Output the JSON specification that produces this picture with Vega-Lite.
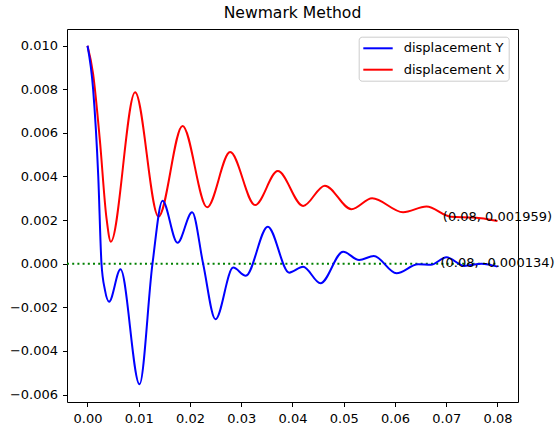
{
  "$schema": "https://vega.github.io/schema/vega-lite/v6.json",
  "autosize": {"type": "none"},
  "padding": {"left": 67, "top": 29, "right": 37, "bottom": 26},
  "width": 451,
  "height": 373,
  "background": "white",
  "title": {"text": "Newmark Method", "fontSize": 15.6, "fontWeight": "normal", "font": "DejaVu Sans", "color": "black", "offset": 7, "anchor": "middle"},
  "config": {
    "font": "DejaVu Sans",
    "view": {"stroke": "black", "strokeWidth": 1},
    "axis": {"grid": false, "domain": false, "tickColor": "black", "tickSize": 4.5, "tickWidth": 1, "labelColor": "black", "labelFontSize": 13, "labelFont": "DejaVu Sans", "title": null}
  },
  "datasets": {
    "curves": [
      {"t": 0, "v": 0.0100, "series": "displacement X"},
      {"t": 0.0011, "v": 0.0087, "series": "displacement X"},
      {"t": 0.0024, "v": 0.0057, "series": "displacement X"},
      {"t": 0.0037, "v": 0.0021, "series": "displacement X"},
      {"t": 0.00455, "v": 0.00101, "series": "displacement X"},
      {"t": 0.00929, "v": 0.00786, "series": "displacement X"},
      {"t": 0.01385, "v": 0.00216, "series": "displacement X"},
      {"t": 0.01854, "v": 0.00632, "series": "displacement X"},
      {"t": 0.02334, "v": 0.00259, "series": "displacement X"},
      {"t": 0.02783, "v": 0.00512, "series": "displacement X"},
      {"t": 0.0327, "v": 0.00269, "series": "displacement X"},
      {"t": 0.03713, "v": 0.00425, "series": "displacement X"},
      {"t": 0.04207, "v": 0.00265, "series": "displacement X"},
      {"t": 0.0463, "v": 0.00358, "series": "displacement X"},
      {"t": 0.0515, "v": 0.0025, "series": "displacement X"},
      {"t": 0.05554, "v": 0.0030, "series": "displacement X"},
      {"t": 0.06158, "v": 0.00236, "series": "displacement X"},
      {"t": 0.06614, "v": 0.00262, "series": "displacement X"},
      {"t": 0.0709, "v": 0.00215, "series": "displacement X"},
      {"t": 0.0754, "v": 0.00212, "series": "displacement X"},
      {"t": 0.08, "v": 0.001959, "series": "displacement X"},
      {"t": 0, "v": 0.0100, "series": "displacement Y"},
      {"t": 0.0011, "v": 0.0080, "series": "displacement Y"},
      {"t": 0.0021, "v": 0.0040, "series": "displacement Y"},
      {"t": 0.00273, "v": 0.0, "series": "displacement Y"},
      {"t": 0.0034, "v": -0.0012, "series": "displacement Y"},
      {"t": 0.00421, "v": -0.00174, "series": "displacement Y"},
      {"t": 0.00644, "v": -0.00026, "series": "displacement Y"},
      {"t": 0.01015, "v": -0.00553, "series": "displacement Y"},
      {"t": 0.01268, "v": 0.0, "series": "displacement Y"},
      {"t": 0.01463, "v": 0.00289, "series": "displacement Y"},
      {"t": 0.01756, "v": 0.00096, "series": "displacement Y"},
      {"t": 0.02042, "v": 0.00236, "series": "displacement Y"},
      {"t": 0.02256, "v": 0.0, "series": "displacement Y"},
      {"t": 0.02497, "v": -0.00255, "series": "displacement Y"},
      {"t": 0.02842, "v": -0.00018, "series": "displacement Y"},
      {"t": 0.03089, "v": -0.00055, "series": "displacement Y"},
      {"t": 0.03518, "v": 0.0017, "series": "displacement Y"},
      {"t": 0.03934, "v": -0.00041, "series": "displacement Y"},
      {"t": 0.04207, "v": -0.00014, "series": "displacement Y"},
      {"t": 0.04546, "v": -0.0009, "series": "displacement Y"},
      {"t": 0.04988, "v": 0.00055, "series": "displacement Y"},
      {"t": 0.053, "v": 0.00017, "series": "displacement Y"},
      {"t": 0.05587, "v": 0.00035, "series": "displacement Y"},
      {"t": 0.06029, "v": -0.00044, "series": "displacement Y"},
      {"t": 0.0645, "v": -0.00003, "series": "displacement Y"},
      {"t": 0.067, "v": -0.00005, "series": "displacement Y"},
      {"t": 0.07004, "v": 0.0003, "series": "displacement Y"},
      {"t": 0.0735, "v": -0.0001, "series": "displacement Y"},
      {"t": 0.0769, "v": 0.0, "series": "displacement Y"},
      {"t": 0.08, "v": -0.000134, "series": "displacement Y"}
    ],
    "zero": [
      {"t": -0.004, "v": 0},
      {"t": 0.08, "v": 0}
    ],
    "labels": [
      {"t": 0.08, "v": 0.001959, "label": "(0.08, 0.001959)"},
      {"t": 0.08, "v": -0.000134, "label": "(0.08, -0.000134)"}
    ]
  },
  "layer": [
    {
      "data": {"name": "zero"},
      "mark": {"type": "line", "color": "green", "strokeWidth": 2, "strokeDash": [2, 3.2]},
      "encoding": {
        "x": {"field": "t", "type": "quantitative", "scale": {"domain": [-0.004, 0.084], "nice": false, "zero": false},
              "axis": {"values": [0, 0.01, 0.02, 0.03, 0.04, 0.05, 0.06, 0.07, 0.08], "format": ".2f", "labelPadding": 6}},
        "y": {"field": "v", "type": "quantitative", "scale": {"domain": [-0.006344, 0.010766], "nice": false, "zero": false},
              "axis": {"values": [-0.006, -0.004, -0.002, 0, 0.002, 0.004, 0.006, 0.008, 0.01], "format": ".3f", "labelPadding": 5}}
      }
    },
    {
      "data": {"name": "curves"},
      "mark": {"type": "line", "strokeWidth": 2, "interpolate": "monotone"},
      "encoding": {
        "x": {"field": "t", "type": "quantitative"},
        "y": {"field": "v", "type": "quantitative"},
        "color": {"field": "series", "type": "nominal",
                  "scale": {"domain": ["displacement Y", "displacement X"], "range": ["blue", "red"]},
                  "legend": {"title": null, "orient": "none", "legendX": 291.7, "legendY": 7.7,
                             "symbolType": "M-1,0H3.2", "symbolSize": 196, "symbolStrokeWidth": 2,
                             "labelFontSize": 13, "labelColor": "black", "labelOffset": 25.4, "labelFont": "DejaVu Sans",
                             "strokeColor": "#cccccc", "fillColor": "white", "cornerRadius": 3, "padding": 3.6, "rowPadding": 6.4}}
      }
    },
    {
      "data": {"name": "labels"},
      "mark": {"type": "text", "align": "center", "baseline": "alphabetic", "fontSize": 13, "color": "black"},
      "encoding": {
        "x": {"field": "t", "type": "quantitative"},
        "y": {"field": "v", "type": "quantitative"},
        "text": {"field": "label"}
      }
    }
  ]
}
